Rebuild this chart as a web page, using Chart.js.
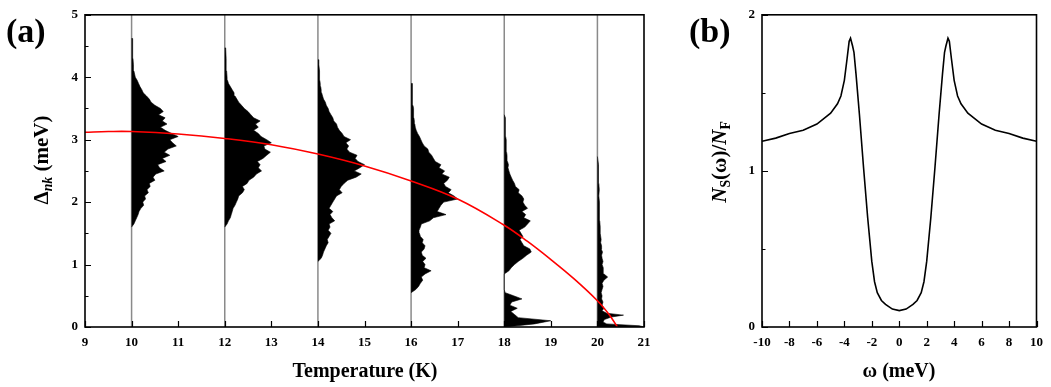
<!DOCTYPE html>
<html>
<head>
<meta charset="utf-8">
<script src="https://cdn.jsdelivr.net/npm/chart.js@4.4.0/dist/chart.umd.min.js"></script>
<style>
  body { margin: 0; background: #fff; width: 1051px; height: 387px; position: relative; overflow: hidden;
         font-family: "Liberation Serif", "Times New Roman", serif; font-weight: bold; color: #000; }
  canvas { position: absolute; top: 0; }
  #chartA { left: 0; }
  #chartB { left: 700px; }
  .lbl { position: absolute; white-space: nowrap; line-height: 1; }
  .panel { font-size: 34px; }
  .xt { font-size: 20px; transform: translate(-50%, -50%); top: 370px; }
  .yt { font-size: 21px; transform: translate(-50%, -50%) rotate(-90deg); }
  .yt sub { font-size: 0.65em; vertical-align: -0.3em; }
</style>
</head>
<body>
<canvas id="chartA" width="660" height="387"></canvas>
<canvas id="chartB" width="351" height="387"></canvas>

<div class="lbl panel" style="left:6px; top:14px;">(a)</div>
<div class="lbl panel" style="left:689px; top:14px;">(b)</div>
<div class="lbl xt" style="left:365px;">Temperature (K)</div>
<div class="lbl xt" style="left:899px;">ω (meV)</div>
<div class="lbl yt" style="left:43px; top:160px;">Δ<sub><i>nk</i></sub> (meV)</div>
<div class="lbl yt" style="left:721px; top:162px;"><i>N</i><sub>S</sub>(ω)/<i>N</i><sub>F</sub></div>

<script>
// temperatures where the gap distributions sit
var temps = [10, 12, 14, 16, 18, 20];

// gap distributions: Δ levels (meV) and bar length (in K units)
var d10 = [1.60,1.65,1.70,1.75,1.80,1.85,1.90,1.95,2.00,2.05,2.10,2.15,2.20,2.25,2.30,2.35,2.40,2.45,2.50,2.55,2.60,2.65,2.70,2.75,2.80,2.85,2.90,2.95,3.00,3.05,3.10,3.15,3.20,3.25,3.30,3.35,3.40,3.45,3.50,3.55,3.60,3.65,3.70,3.75,3.80,3.85,3.90,3.95,4.00,4.10,4.20,4.30,4.40,4.50,4.62];
var n10 = [0,0.05,0.08,0.11,0.14,0.16,0.20,0.26,0.24,0.30,0.28,0.36,0.33,0.40,0.38,0.50,0.46,0.52,0.70,0.60,0.56,0.74,0.66,0.82,0.70,0.78,0.96,0.88,0.82,1.00,0.86,0.72,0.62,0.76,0.66,0.72,0.58,0.68,0.62,0.50,0.42,0.38,0.32,0.25,0.22,0.18,0.15,0.12,0.08,0.05,0.04,0.03,0.03,0.02,0.02];

var d12 = [1.60,1.65,1.70,1.75,1.80,1.85,1.90,1.95,2.00,2.05,2.10,2.15,2.20,2.25,2.30,2.35,2.40,2.45,2.50,2.55,2.60,2.65,2.70,2.75,2.80,2.85,2.90,2.95,3.00,3.05,3.10,3.15,3.20,3.25,3.30,3.35,3.40,3.45,3.50,3.55,3.60,3.65,3.70,3.75,3.80,3.85,3.90,3.95,4.00,4.10,4.20,4.30,4.47];
var n12 = [0,0.05,0.08,0.12,0.14,0.16,0.18,0.22,0.25,0.28,0.30,0.38,0.42,0.38,0.48,0.52,0.62,0.68,0.79,0.72,0.76,0.70,0.82,0.90,0.98,0.86,0.84,1.00,0.90,0.78,0.72,0.62,0.72,0.66,0.76,0.62,0.56,0.50,0.42,0.36,0.30,0.26,0.22,0.20,0.16,0.12,0.08,0.06,0.05,0.04,0.03,0.03,0.02];

var d14 = [1.05,1.10,1.15,1.20,1.25,1.30,1.35,1.40,1.45,1.50,1.55,1.60,1.65,1.70,1.75,1.80,1.85,1.90,1.95,2.00,2.05,2.10,2.15,2.20,2.25,2.30,2.35,2.40,2.45,2.50,2.55,2.60,2.65,2.70,2.75,2.80,2.85,2.90,2.95,3.00,3.05,3.10,3.15,3.20,3.25,3.30,3.35,3.40,3.45,3.50,3.55,3.60,3.65,3.70,3.75,3.80,3.85,3.90,3.95,4.00,4.10,4.20,4.28];
var n14 = [0,0.07,0.10,0.12,0.15,0.18,0.22,0.20,0.24,0.28,0.22,0.26,0.24,0.36,0.30,0.26,0.32,0.24,0.28,0.32,0.36,0.40,0.52,0.46,0.50,0.56,0.64,0.82,0.93,0.78,0.90,1.00,0.86,0.80,0.84,0.68,0.62,0.66,0.60,0.70,0.56,0.52,0.46,0.42,0.40,0.34,0.32,0.28,0.24,0.22,0.18,0.16,0.12,0.10,0.08,0.07,0.06,0.05,0.04,0.04,0.03,0.02,0.02];

var d16 = [0.55,0.60,0.65,0.70,0.75,0.80,0.85,0.90,0.95,1.00,1.05,1.10,1.15,1.20,1.25,1.30,1.35,1.40,1.45,1.50,1.55,1.60,1.65,1.70,1.75,1.80,1.85,1.90,1.95,2.00,2.05,2.10,2.15,2.20,2.25,2.30,2.35,2.40,2.45,2.50,2.55,2.60,2.65,2.70,2.75,2.80,2.85,2.90,2.95,3.00,3.05,3.10,3.15,3.20,3.25,3.30,3.35,3.40,3.45,3.50,3.55,3.60,3.65,3.70,3.75,3.80,3.85,3.90];
var n16 = [0,0.10,0.16,0.20,0.25,0.22,0.30,0.43,0.28,0.30,0.25,0.32,0.24,0.22,0.28,0.30,0.24,0.26,0.20,0.18,0.17,0.20,0.22,0.40,0.48,0.75,0.56,0.60,0.64,0.70,1.00,0.92,0.80,0.86,0.74,0.70,0.78,0.82,0.66,0.72,0.60,0.64,0.52,0.48,0.44,0.38,0.36,0.28,0.24,0.21,0.18,0.14,0.11,0.09,0.08,0.07,0.06,0.06,0.05,0.05,0.04,0.04,0.03,0.03,0.03,0.03,0.02,0.02];

var d18 = [0.00,0.05,0.10,0.15,0.20,0.25,0.30,0.35,0.40,0.45,0.50,0.55,0.60,0.65,0.70,0.75,0.80,0.85,0.90,0.95,1.00,1.05,1.10,1.15,1.20,1.25,1.30,1.35,1.40,1.45,1.50,1.55,1.60,1.65,1.70,1.75,1.80,1.85,1.90,1.95,2.00,2.05,2.10,2.15,2.20,2.25,2.30,2.35,2.40,2.45,2.50,2.55,2.60,2.65,2.70,2.75,2.80,2.85,2.90,2.95,3.00,3.05,3.10,3.15,3.20,3.25,3.30,3.35,3.40];
var n18 = [0.02,0.65,1.00,0.30,0.22,0.14,0.28,0.12,0.16,0.38,0.20,0.02,0,0,0,0,0,0,0.10,0.15,0.22,0.30,0.40,0.48,0.58,0.55,0.42,0.38,0.34,0.40,0.36,0.32,0.44,0.50,0.56,0.42,0.46,0.38,0.50,0.44,0.40,0.42,0.38,0.30,0.32,0.24,0.22,0.18,0.15,0.12,0.10,0.08,0.09,0.07,0.06,0.06,0.05,0.05,0.04,0.04,0.04,0.03,0.03,0.03,0.03,0.02,0.02,0.02,0];

var d20 = [0.00,0.02,0.05,0.08,0.12,0.16,0.19,0.22,0.26,0.30,0.35,0.40,0.45,0.50,0.55,0.60,0.65,0.70,0.75,0.80,0.85,0.90,0.95,1.00,1.05,1.10,1.15,1.20,1.25,1.30,1.35,1.40,1.50,1.60,1.70,1.80,1.90,2.00,2.10,2.20,2.30,2.40,2.50,2.60,2.73];
var n20 = [1.00,0.90,0.20,0.12,0.15,0.30,0.56,0.20,0.10,0.14,0.10,0.12,0.09,0.10,0.08,0.10,0.12,0.10,0.14,0.22,0.14,0.12,0.13,0.10,0.12,0.10,0.09,0.11,0.08,0.09,0.07,0.08,0.06,0.06,0.05,0.05,0.04,0.04,0.03,0.04,0.03,0.03,0.02,0.02,0];

var gapLevels = [d10, d12, d14, d16, d18, d20];
var gapCounts = [n10, n12, n14, n16, n18, n20];

// red fit curve, Δ(T)
var fitT   = [9, 9.5, 10, 11, 12, 13, 14, 15, 16, 17, 18, 18.5, 19, 19.5, 20, 20.25, 20.43];
var fitGap = [3.12, 3.13, 3.13, 3.09, 3.02, 2.92, 2.77, 2.58, 2.34, 2.05, 1.63, 1.37, 1.08, 0.77, 0.42, 0.20, 0];

// panel (b) density of states
var omega = [-10,-9,-8,-7,-6,-5,-4.5,-4.25,-4,-3.8,-3.65,-3.55,-3.4,-3.3,-3.15,-2.9,-2.6,-2.3,-2.0,-1.8,-1.6,-1.3,-1.0,-0.5,0,
             0.5,1.0,1.3,1.6,1.8,2.0,2.3,2.6,2.9,3.15,3.3,3.4,3.55,3.65,3.8,4,4.25,4.5,5,6,7,8,9,10];
var dos = [1.19,1.21,1.24,1.26,1.30,1.37,1.43,1.48,1.58,1.72,1.83,1.85,1.80,1.76,1.62,1.36,1.02,0.70,0.42,0.29,0.22,0.17,0.145,0.115,0.105,
           0.115,0.145,0.17,0.22,0.29,0.42,0.70,1.02,1.36,1.62,1.76,1.80,1.85,1.83,1.72,1.58,1.48,1.43,1.37,1.30,1.26,1.24,1.21,1.19];

Chart.defaults.font.family = '"Liberation Serif", "Times New Roman", serif';
Chart.defaults.color = '#000';

function histPoints(t, lv, w) {
  var pts = [{x: t, y: lv[0]}];
  for (var i = 0; i < lv.length; i++) {
    pts.push({x: t + w[i], y: lv[i]});
  }
  pts.push({x: t, y: lv[lv.length - 1]});
  return pts;
}

// box around the plot and inward tick marks
var frame = {
  id: 'frame',
  afterDraw: function(chart, args, opts) {
    var ctx = chart.ctx, a = chart.chartArea;
    var xs = chart.scales.x, ys = chart.scales.y;
    ctx.save();
    ctx.strokeStyle = '#000';
    ctx.lineWidth = 1.2;
    ctx.beginPath();
    xs.ticks.forEach(function(t) {
      var px = Math.round(xs.getPixelForValue(t.value)) + 0.5;
      ctx.moveTo(px, a.bottom); ctx.lineTo(px, a.bottom - 6);
    });
    ys.ticks.forEach(function(t) {
      var py = Math.round(ys.getPixelForValue(t.value)) + 0.5;
      ctx.moveTo(a.left, py); ctx.lineTo(a.left + 6, py);
    });
    for (var v = ys.min + opts.yMinor; v < ys.max; v += opts.yMinor * 2) {
      var py = Math.round(ys.getPixelForValue(v)) + 0.5;
      ctx.moveTo(a.left, py); ctx.lineTo(a.left + 3.5, py);
    }
    ctx.stroke();
    ctx.lineWidth = 1.6;
    ctx.strokeRect(a.left, a.top, a.right - a.left, a.bottom - a.top);
    ctx.restore();
  }
};

var tickFont = {size: 13, weight: 'bold'};

function axes(xmin, xmax, xstep, ymax, yw) {
  return {
    x: {
      type: 'linear', min: xmin, max: xmax,
      ticks: {stepSize: xstep, font: tickFont, padding: 8, maxRotation: 0, autoSkip: false},
      grid: {display: false, drawTicks: false},
      border: {display: false},
      afterFit: function(s) { s.height = 60; }
    },
    y: {
      min: 0, max: ymax,
      ticks: {stepSize: 1, font: tickFont, padding: 7},
      grid: {display: false, drawTicks: false},
      border: {display: false},
      afterFit: function(s) { s.width = yw; }
    }
  };
}

// panel (a)
var dsA = [{
  data: fitT.map(function(t, i) { return {x: t, y: fitGap[i]}; }),
  borderColor: '#ff0000', borderWidth: 1.6, tension: 0.4, fill: false
}];
temps.forEach(function(t, i) {
  dsA.push({
    data: histPoints(t, gapLevels[i], gapCounts[i]),
    borderColor: '#000', borderWidth: 0.6, backgroundColor: '#000', fill: 'shape', tension: 0
  });
});
temps.forEach(function(t) {
  dsA.push({
    data: [{x: t, y: 0}, {x: t, y: 5}],
    borderColor: '#8a8a8a', borderWidth: 1.5, fill: false
  });
});

new Chart(document.getElementById('chartA'), {
  type: 'line',
  data: {datasets: dsA},
  options: {
    responsive: false, animation: false, devicePixelRatio: 1,
    layout: {padding: {top: 9, right: 16, left: 0, bottom: 0}},
    elements: {point: {radius: 0}},
    plugins: {legend: {display: false}, tooltip: {enabled: false}, frame: {yMinor: 0.5}},
    scales: axes(9, 21, 1, 5, 85)
  },
  plugins: [frame]
});

// panel (b)
new Chart(document.getElementById('chartB'), {
  type: 'line',
  data: {datasets: [{
    data: omega.map(function(w, i) { return {x: w, y: dos[i]}; }),
    borderColor: '#000', borderWidth: 1.6, fill: false, tension: 0
  }]},
  options: {
    responsive: false, animation: false, devicePixelRatio: 1,
    layout: {padding: {top: 9, right: 14, left: 0, bottom: 0}},
    elements: {point: {radius: 0}},
    plugins: {legend: {display: false}, tooltip: {enabled: false}, frame: {yMinor: 0.5}},
    scales: axes(-10, 10, 2, 2, 62)
  },
  plugins: [frame]
});
</script>
</body>
</html>
